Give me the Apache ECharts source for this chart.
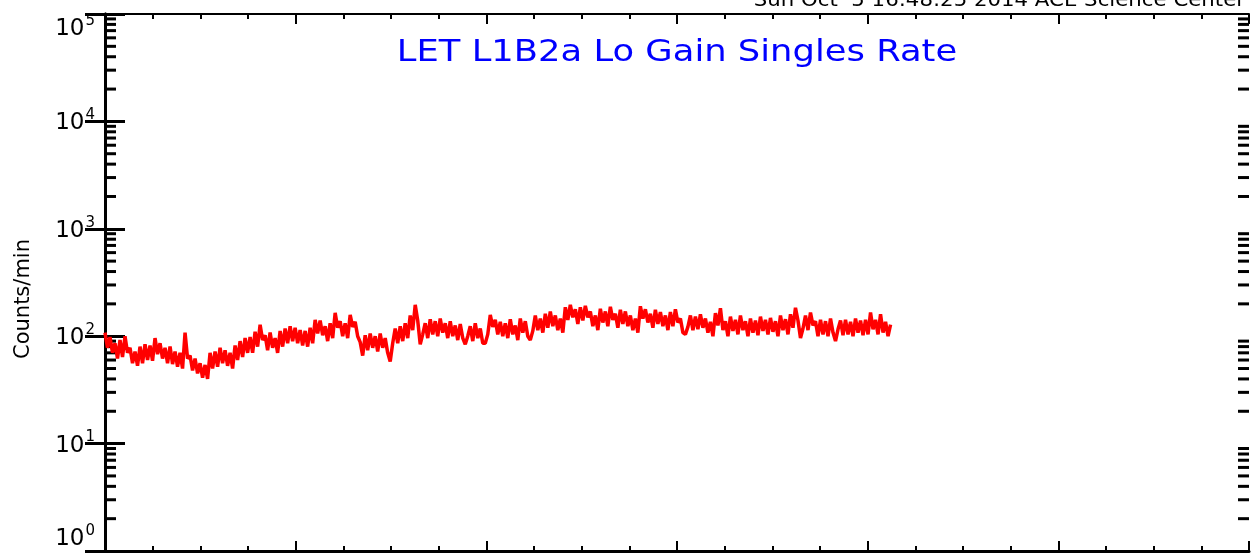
<!DOCTYPE html>
<html>
<head>
    <meta charset="utf-8">
    <title>LET L1B2a Lo Gain Singles Rate</title>
    <script src="https://cdn.jsdelivr.net/npm/echarts@6.0.0/dist/echarts.min.js"></script>
    <style>
        html, body { margin: 0; padding: 0; background: #fff; }
        #main { width: 1254px; height: 558px; }
    </style>
</head>
<body>
    <div id="main"></div>

    <script>
        // counts/min, one reading per sample
        const rate = [
            108, 78, 98, 70, 86, 62, 92, 64, 100, 70, 78, 56, 72, 53, 80, 56, 84, 60, 82, 59,
            96, 68, 86, 62, 78, 56, 80, 55, 72, 52, 70, 50, 108, 62, 66, 48, 62, 45, 56, 41,
            54, 40, 70, 50, 72, 52, 78, 56, 74, 53, 70, 50, 82, 60, 90, 64, 96, 70, 98, 70,
            110, 80, 128, 92, 102, 74, 108, 78, 96, 70, 112, 80, 118, 86, 124, 90, 120, 86, 114, 82,
            112, 80, 120, 86, 142, 106, 140, 102, 124, 90, 132, 96, 165, 120, 138, 100, 132, 96, 158, 122,
            136, 100, 88, 66, 102, 74, 106, 78, 100, 72, 106, 78, 96, 70, 58, 86, 118, 86, 124, 90,
            132, 96, 156, 114, 196, 140, 84, 104, 132, 96, 144, 104, 138, 100, 146, 108, 132, 96, 138, 100,
            126, 92, 130, 96, 84, 100, 124, 90, 132, 96, 118, 86, 86, 104, 158, 122, 142, 104, 136, 100,
            132, 96, 144, 104, 126, 92, 146, 108, 138, 100, 92, 112, 156, 114, 146, 108, 162, 120, 170, 124,
            156, 114, 146, 108, 186, 142, 196, 150, 178, 130, 186, 140, 192, 150, 170, 124, 156, 114, 180, 134,
            170, 124, 188, 142, 162, 120, 176, 130, 170, 124, 156, 114, 146, 108, 190, 146, 178, 134, 162, 120,
            176, 130, 168, 124, 156, 114, 168, 124, 178, 134, 146, 108, 104, 122, 156, 114, 152, 116, 160, 120,
            146, 108, 136, 100, 164, 126, 182, 114, 138, 100, 152, 112, 142, 104, 156, 114, 138, 100, 146, 108,
            140, 102, 152, 112, 142, 104, 148, 110, 138, 100, 156, 114, 144, 104, 160, 120, 184, 140, 96, 118,
            156, 114, 166, 126, 138, 100, 142, 104, 138, 100, 146, 108, 90, 116, 140, 102, 142, 104, 136, 100,
            146, 108, 140, 102, 142, 104, 166, 116, 142, 104, 160, 108, 136, 100, 128
        ];
        const endDay = 4.12;          // last reading, in days from the start of the window
        const xMax = 6;
        const yExponents = [0, 1, 2, 3, 4, 5];
        const minorMultiples = [2, 3, 4, 5, 6, 7, 8, 9];

        const step = endDay / (rate.length - 1);
        const lineData = rate.map((v, i) => [i * step, v]);

        const minorTicks = [];
        yExponents.slice(0, -1).forEach(e => {
            minorMultiples.forEach(m => minorTicks.push([0, m * Math.pow(10, e)]));
        });

        var chartDom = document.getElementById('main');
        var myChart = echarts.init(chartDom, null, { renderer: 'canvas' });

        const axisBlack = { lineStyle: { color: '#000', width: 3 } };

        const yLabel = {
            show: true,
            margin: 10,
            verticalAlignMaxLabel: 'top',
            verticalAlignMinLabel: 'bottom',
            formatter: v => '{b|10}{e|' + Math.round(Math.log10(v)) + '}',
            rich: {
                b: { fontSize: 23, color: '#000', fontFamily: 'DejaVu Sans', padding: [4, 0, 0, 0] },
                e: { fontSize: 15, color: '#000', fontFamily: 'DejaVu Sans', padding: [0, 0, 12, 1] }
            }
        };

        const option = {
            animation: false,
            backgroundColor: '#fff',
            graphic: [
                {
                    type: 'text',
                    x: 677,
                    y: 53,
                    scaleX: 1.14,
                    style: {
                        text: 'LET L1B2a Lo Gain Singles Rate',
                        fill: '#0000ff',
                        font: '31px "DejaVu Sans"',
                        align: 'center',
                        verticalAlign: 'middle'
                    }
                },
                {
                    type: 'text',
                    x: 1245,
                    y: 11,
                    scaleX: 1.12,
                    style: {
                        text: 'Sun Oct  5 16:48:25 2014 ACE Science Center',
                        fill: '#000',
                        font: '19px "DejaVu Sans"',
                        align: 'right',
                        verticalAlign: 'bottom'
                    }
                },
                {
                    type: 'text',
                    x: 24,
                    y: 299,
                    rotation: Math.PI / 2,
                    style: {
                        text: 'Counts/min',
                        fill: '#000',
                        font: '21px "DejaVu Sans"',
                        align: 'center',
                        verticalAlign: 'middle'
                    }
                }
            ],
            grid: { left: 105, right: 5, top: 14, bottom: 7, containLabel: false },
            xAxis: [
                {
                    type: 'value', position: 'bottom', min: 0, max: xMax, interval: 1,
                    axisLine: axisBlack,
                    axisTick: { inside: true, length: 10, lineStyle: { color: '#000', width: 2 } },
                    minorTick: { show: true, splitNumber: 4, length: 5, lineStyle: { color: '#000', width: 2 } },
                    axisLabel: { show: false },
                    splitLine: { show: false }
                },
                {
                    type: 'value', position: 'top', min: 0, max: xMax, interval: 1,
                    axisLine: { lineStyle: { color: '#000', width: 2 } },
                    axisTick: { inside: true, length: 10, lineStyle: { color: '#000', width: 2 } },
                    minorTick: { show: true, splitNumber: 4, length: 5, lineStyle: { color: '#000', width: 2 } },
                    axisLabel: { show: false },
                    splitLine: { show: false }
                }
            ],
            yAxis: [
                {
                    type: 'log', logBase: 10, position: 'left', min: 1, max: 1e5,
                    axisLine: axisBlack,
                    axisTick: { inside: true, length: 20, lineStyle: { color: '#000', width: 3 } },
                    axisLabel: yLabel,
                    splitLine: { show: false }
                },
                {
                    type: 'log', logBase: 10, position: 'right', min: 1, max: 1e5,
                    axisLine: axisBlack,
                    axisTick: { inside: true, length: 20, lineStyle: { color: '#000', width: 3 } },
                    axisLabel: { show: false },
                    splitLine: { show: false }
                }
            ],
            series: [
                {
                    // minor ticks at 2..9 x 10^n on both y axes
                    type: 'custom',
                    xAxisIndex: 0,
                    yAxisIndex: 0,
                    silent: true,
                    clip: false,
                    data: minorTicks,
                    renderItem: function (params, api) {
                        const v = api.value(1);
                        const l = api.coord([0, v]);
                        const r = api.coord([xMax, v]);
                        const st = { stroke: '#000', lineWidth: 3 };
                        return {
                            type: 'group',
                            children: [
                                { type: 'line', shape: { x1: l[0], y1: l[1], x2: l[0] + 11, y2: l[1] }, style: st },
                                { type: 'line', shape: { x1: r[0], y1: r[1], x2: r[0] - 11, y2: r[1] }, style: st }
                            ]
                        };
                    }
                },
                {
                    type: 'line',
                    xAxisIndex: 0,
                    yAxisIndex: 0,
                    data: lineData,
                    showSymbol: false,
                    symbol: 'none',
                    lineStyle: { color: '#ff0000', width: 3.5 },
                    z: 3
                }
            ]
        };

        myChart.setOption(option);
        window.addEventListener('resize', function() {
            myChart.resize();
        });
    </script>
</body>
</html>
